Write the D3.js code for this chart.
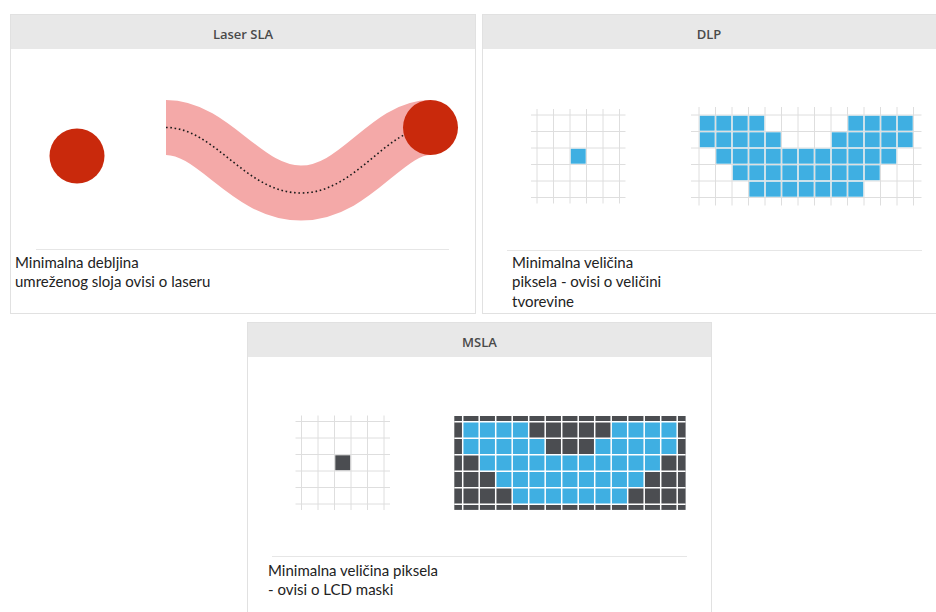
<!DOCTYPE html>
<html><head><meta charset="utf-8">
<script src="https://cdn.jsdelivr.net/npm/d3@7"></script>
<style>body{margin:0;background:#fff}svg{display:block}</style>
</head><body><svg id="c" width="936" height="612"></svg>
<script>
// ---- data ----
const panelTitles = ["Laser SLA", "DLP", "MSLA"];
const captions = [
  ["Minimalna debljina", "umreženog sloja ovisi o laseru"],
  ["Minimalna veličina", "piksela - ovisi o veličini", "tvorevine"],
  ["Minimalna veličina piksela", "- ovisi o LCD maski"]
];
// pattern of the printed shape (13 columns x 5 rows), 1 = exposed pixel
const maskRows = [
  "1111000001111",
  "1111100011111",
  "0111111111110",
  "0011111111100",
  "0001111111000"
];
const singleGrid = { cols: 5, rows: 5, pixelCol: 2, pixelRow: 2 };
// laser scan path (normalised units): cubic bezier control points
const laserCenterline = [[0,0],[0.185,0],[0.30,1],[0.51,1],[0.72,1],[0.83,0],[1,0]];

// ---- style / layout ----
const C = {
  border: "#e1e1e1", header: "#e8e8e8", title: "#4a4a4a", text: "#222",
  sep: "#e6e6e6", red: "#c9290c", pink: "#f4a9a8", blue: "#3fafe2",
  dark: "#4b4d51", gridLine: "#dedede"
};
const panels = [
  { x: 10, y: 14, w: 466, h: 300, tx: 243 },
  { x: 482, y: 14, w: 466, h: 300, tx: 709 },
  { x: 247, y: 322, w: 465, h: 300, tx: 479.5 }
];
const svg = d3.select("#c");

panels.forEach((p, i) => {
  const g = svg.append("g");
  g.append("rect").attr("x", p.x + 0.5).attr("y", p.y + 0.5).attr("width", p.w - 1).attr("height", p.h - 1)
    .attr("fill", "#fff").attr("stroke", C.border);
  g.append("rect").attr("x", p.x + 1).attr("y", p.y + 1).attr("width", p.w - 2).attr("height", 34)
    .attr("fill", C.header);
  g.append("text").attr("x", p.tx).attr("y", p.y + 24.5).attr("text-anchor", "middle")
    .attr("font-family", "'Open Sans', sans-serif").attr("font-weight", 600).attr("font-size", 13)
    .attr("fill", C.title).text(panelTitles[i]);
});

// separators + captions
const capLayout = [
  { sx1: 36, sx2: 449, sy: 249, tx: 15, ty: 268 },
  { sx1: 507, sx2: 922, sy: 250, tx: 512, ty: 268 },
  { sx1: 272, sx2: 687, sy: 556, tx: 268, ty: 575.5 }
];
capLayout.forEach((c, i) => {
  svg.append("line").attr("x1", c.sx1).attr("x2", c.sx2).attr("y1", c.sy + 0.5).attr("y2", c.sy + 0.5)
    .attr("stroke", C.sep).attr("stroke-width", 1);
  svg.append("g").selectAll("text").data(captions[i]).join("text")
    .attr("x", c.tx).attr("y", (d, j) => c.ty + j * 19.3)
    .attr("font-family", "Lato, sans-serif").attr("font-size", 15).attr("fill", C.text)
    .text(d => d);
});

// ---- Laser SLA ----
const lx = d3.scaleLinear().domain([0, 1]).range([166, 430.5]);
const ly = d3.scaleLinear().domain([0, 1]).range([127.5, 193]);
const pts = laserCenterline.map(d => [lx(d[0]), ly(d[1])]);
const pth = d3.path();
pth.moveTo(...pts[0]);
pth.bezierCurveTo(...pts[1], ...pts[2], ...pts[3]);
pth.bezierCurveTo(...pts[4], ...pts[5], ...pts[6]);
svg.append("path").attr("d", pth.toString()).attr("fill", "none")
  .attr("stroke", C.pink).attr("stroke-width", 55).attr("stroke-linecap", "butt");
svg.append("path").attr("d", pth.toString()).attr("fill", "none")
  .attr("stroke", "#1a1a1a").attr("stroke-width", 1.6).attr("stroke-dasharray", "1.6,2.7");
svg.append("circle").attr("cx", 77).attr("cy", 156).attr("r", 27.5).attr("fill", C.red);
svg.append("circle").attr("cx", lx(1)).attr("cy", ly(0)).attr("r", 27.5).attr("fill", C.red);

// ---- grids ----
const cell = 16.5;
function lightGrid(x0, y0, cols, rows, ext, filled, fillColor) {
  const x = d3.scaleLinear().domain([0, cols]).range([x0, x0 + cols * cell]);
  const y = d3.scaleLinear().domain([0, rows]).range([y0, y0 + rows * cell]);
  const g = svg.append("g");
  g.selectAll(".v").data(d3.range(cols + 1)).join("line")
    .attr("x1", d => x(d)).attr("x2", d => x(d)).attr("y1", y(0) - ext).attr("y2", y(rows) + ext)
    .attr("stroke", C.gridLine).attr("stroke-width", 1);
  g.selectAll(".h").data(d3.range(rows + 1)).join("line")
    .attr("y1", d => y(d)).attr("y2", d => y(d)).attr("x1", x(0) - ext).attr("x2", x(cols) + ext)
    .attr("stroke", C.gridLine).attr("stroke-width", 1);
  g.selectAll("rect").data(filled).join("rect")
    .attr("x", d => x(d.c) + 0.8).attr("y", d => y(d.r) + 0.8)
    .attr("width", cell - 1.6).attr("height", cell - 1.6).attr("fill", fillColor);
}
const maskCells = [];
maskRows.forEach((row, r) => row.split("").forEach((v, c) => { if (v === "1") maskCells.push({ r, c }); }));
const single = [{ r: singleGrid.pixelRow, c: singleGrid.pixelCol }];

lightGrid(537, 115, singleGrid.cols, singleGrid.rows, 6, single, C.blue);
lightGrid(699, 115, maskRows[0].length, maskRows.length, 8, maskCells, C.blue);
lightGrid(301.5, 421.5, singleGrid.cols, singleGrid.rows, 6, single, C.dark);

// MSLA LCD mask
(function () {
  const cols = maskRows[0].length, rows = maskRows.length;
  const x0 = 462.7, y0 = 421.7;
  const x = d3.scaleLinear().domain([0, cols]).range([x0, x0 + cols * cell]);
  const y = d3.scaleLinear().domain([0, rows]).range([y0, y0 + rows * cell]);
  const bx = 8.4, by = 5.7;
  const g = svg.append("g");
  g.append("rect").attr("x", x(0) - bx).attr("y", y(0) - by)
    .attr("width", x(cols) - x(0) + 2 * bx).attr("height", y(rows) - y(0) + 2 * by).attr("fill", C.dark);
  g.selectAll("rect.b").data(maskCells).join("rect").attr("class", "b")
    .attr("x", d => x(d.c)).attr("y", d => y(d.r)).attr("width", cell).attr("height", cell).attr("fill", C.blue);
  g.selectAll(".v").data(d3.range(cols + 1)).join("line")
    .attr("x1", d => x(d)).attr("x2", d => x(d)).attr("y1", y(0) - by).attr("y2", y(rows) + by)
    .attr("stroke", "#fff").attr("stroke-width", 1.5);
  g.selectAll(".h").data(d3.range(rows + 1)).join("line")
    .attr("y1", d => y(d)).attr("y2", d => y(d)).attr("x1", x(0) - bx).attr("x2", x(cols) + bx)
    .attr("stroke", "#fff").attr("stroke-width", 1.5);
})();
</script></body></html>
